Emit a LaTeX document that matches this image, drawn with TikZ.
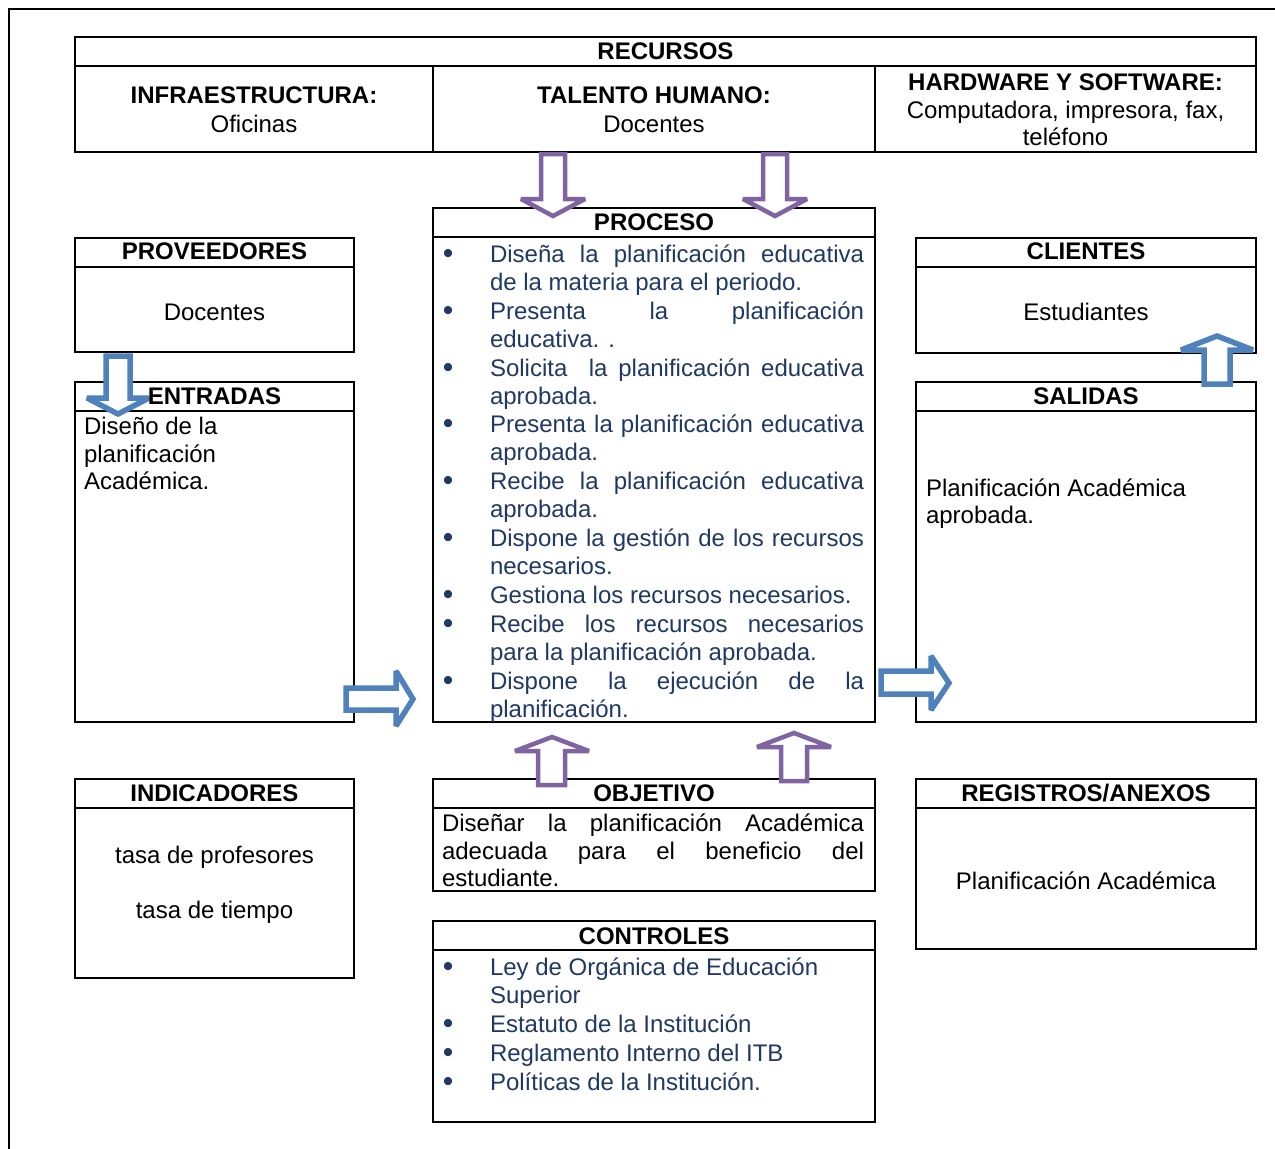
\documentclass[tikz,border=0pt]{standalone}
\usepackage{fontspec}
\setmainfont{Liberation Sans}
\definecolor{navy}{HTML}{1F3864}
\definecolor{apurple}{HTML}{8064A2}
\definecolor{ablue}{HTML}{4F81BD}
\newcommand\jproc[1]{\makebox[374pt][s]{#1}}
\newcommand\jobj[1]{\makebox[422pt][s]{#1}}
\begin{document}
\begin{tikzpicture}[x=1pt,y=-1pt,
  box/.style={draw=black, line width=1.8pt, rectangle, inner sep=0pt, outer sep=0pt},
  txt/.style={inner sep=0pt, outer sep=0pt, font=\fontsize{24}{28}\selectfont, text=black},
  hdr/.style={txt, font=\fontsize{24}{28}\selectfont\bfseries},
  ptxt/.style={txt, text=navy, anchor=base west},
  bul/.style={txt, text=navy, anchor=base, font=\fontsize{30}{24}\selectfont},
  parr/.style={draw=apurple, fill=white, line width=4.5pt, line join=miter, miter limit=2.5},
  barr/.style={draw=ablue, fill=white, line width=5.5pt, line join=miter, miter limit=2.5}]
\useasboundingbox (0,0) rectangle (1275,1149);
\fill[white] (0,0) rectangle (1275,1149);
% outer frame
\draw[line width=1.8pt] (9,1149) -- (9,9) -- (1275,9);

% boxes
\node[box, minimum width=1181pt, minimum height=115pt] (recursos) at (665.5,94.5) {};
\node[box, minimum width=442pt, minimum height=514pt] (proceso) at (654,465) {};
\node[box, minimum width=279pt, minimum height=114pt] (prov) at (214.5,295) {};
\node[box, minimum width=279pt, minimum height=340pt] (entradas) at (214.5,552) {};
\node[box, minimum width=340pt, minimum height=115pt] (clientes) at (1086,295.5) {};
\node[box, minimum width=340pt, minimum height=340pt] (salidas) at (1086,552) {};
\node[box, minimum width=279pt, minimum height=199pt] (indic) at (214.5,878.5) {};
\node[box, minimum width=442pt, minimum height=112pt] (objetivo) at (654,835) {};
\node[box, minimum width=442pt, minimum height=201pt] (controles) at (654,1021.5) {};
\node[box, minimum width=340pt, minimum height=170pt] (registros) at (1086,864) {};

\foreach \b in {recursos,proceso,prov,entradas,clientes,salidas,indic,objetivo,controles,registros}
  \draw[line width=1.8pt] ([yshift=-29pt]\b.north west) -- ([yshift=-29pt]\b.north east);
\draw[line width=1.8pt] (433,66) -- (433,152);
\draw[line width=1.8pt] (875,66) -- (875,152);

% arrows
\draw[parr] (541,154) -- (565,154) -- (565,199) -- (585,199) -- (553,216) -- (521,199) -- (541,199) -- cycle;
\draw[parr] (763,154) -- (787,154) -- (787,199) -- (807,199) -- (775,216) -- (743,199) -- (763,199) -- cycle;
\draw[parr] (538,785) -- (565,785) -- (565,751) -- (589,751) -- (552,737) -- (515,751) -- (538,751) -- cycle;
\draw[parr] (781,781) -- (807,781) -- (807,747) -- (831,747) -- (794,733) -- (757,747) -- (781,747) -- cycle;
\draw[barr] (106,356) -- (130,356) -- (130,398) -- (149,398) -- (118,414) -- (87,398) -- (106,398) -- cycle;
\draw[barr] (346,688) -- (396,688) -- (396,671) -- (413,699) -- (396,726) -- (396,710) -- (346,710) -- cycle;
\draw[barr] (881,671) -- (931,671) -- (931,656) -- (949,683) -- (931,710) -- (931,694) -- (881,694) -- cycle;
\draw[barr] (1204,384) -- (1230,384) -- (1230,350) -- (1253,350) -- (1217,336) -- (1181,350) -- (1204,350) -- cycle;

% RECURSOS texts
\node[hdr, anchor=base] (hrec) at (665.5,59) {RECURSOS};
\node[hdr, anchor=base] (hinf) at (254,103) {INFRAESTRUCTURA:};
\node[txt, anchor=base] (tinf) at (254,132) {Oficinas};
\node[hdr, anchor=base] (htal) at (654,103) {TALENTO HUMANO:};
\node[txt, anchor=base] (ttal) at (654,132) {Docentes};
\node[hdr, anchor=base] (hhw) at (1065.5,90) {HARDWARE Y SOFTWARE:};
\node[txt, anchor=base] (thw1) at (1065.5,118) {Computadora, impresora, fax,};
\node[txt, anchor=base] (thw2) at (1065.5,145) {teléfono};

% headers
\node[hdr, anchor=base] (hproc) at (654,230) {PROCESO};
\node[hdr, anchor=base] (hprov) at (214.5,259) {PROVEEDORES};
\node[hdr, anchor=base] (hcli) at (1086,259) {CLIENTES};
\node[hdr, anchor=base] (hent) at (214.5,404) {ENTRADAS};
\node[hdr, anchor=base] (hsal) at (1086,404) {SALIDAS};
\node[hdr, anchor=base] (hind) at (214.5,801) {INDICADORES};
\node[hdr, anchor=base] (hobj) at (654,801) {OBJETIVO};
\node[hdr, anchor=base] (hreg) at (1086,801) {REGISTROS/ANEXOS};
\node[hdr, anchor=base] (hcon) at (654,944) {CONTROLES};

% simple contents
\node[txt, anchor=base] (tprov) at (214.5,320) {Docentes};
\node[txt, anchor=base] (tcli) at (1086,320) {Estudiantes};
\node[txt, anchor=base west] (tent1) at (84,434) {Diseño de la};
\node[txt, anchor=base west] (tent2) at (84,462) {planificación};
\node[txt, anchor=base west] (tent3) at (84,489) {Académica.};
\node[txt, anchor=base west] (tsal1) at (926,496) {Planificación Académica};
\node[txt, anchor=base west] (tsal2) at (926,523) {aprobada.};
\node[txt, anchor=base] (tind1) at (214.5,863) {tasa de profesores};
\node[txt, anchor=base] (tind2) at (214.5,918) {tasa de tiempo};
\node[txt, anchor=base] (treg) at (1086,889) {Planificación Académica};
\node[txt, anchor=base west] (tobj1) at (442,831) {\jobj{Diseñar la planificación Académica}};
\node[txt, anchor=base west] (tobj2) at (442,859) {\jobj{adecuada para el beneficio del}};
\node[txt, anchor=base west] (tobj3) at (442,886) {estudiante.};

% PROCESO list
\foreach \y [count=\i] in {262,319,376,432,489,546,603,632,689}
  \node[bul] (pb\i) at (448,\y+1.5) {•};
\node[ptxt] (p1) at (490,262) {\jproc{Diseña la planificación educativa}};
\node[ptxt] (p2) at (490,290) {de la materia para el periodo.};
\node[ptxt] (p3) at (490,319) {\jproc{Presenta la planificación}};
\node[ptxt] (p4) at (490,347) {educativa. .};
\node[ptxt] (p5) at (490,376) {\jproc{Solicita\ \ la planificación educativa}};
\node[ptxt] (p6) at (490,404) {aprobada.};
\node[ptxt] (p7) at (490,432) {\jproc{Presenta la planificación educativa}};
\node[ptxt] (p8) at (490,460) {aprobada.};
\node[ptxt] (p9) at (490,489) {\jproc{Recibe la planificación educativa}};
\node[ptxt] (p10) at (490,517) {aprobada.};
\node[ptxt] (p11) at (490,546) {\jproc{Dispone la gestión de los recursos}};
\node[ptxt] (p12) at (490,574) {necesarios.};
\node[ptxt] (p13) at (490,603) {Gestiona los recursos necesarios.};
\node[ptxt] (p14) at (490,632) {\jproc{Recibe los recursos necesarios}};
\node[ptxt] (p15) at (490,660) {para la planificación aprobada.};
\node[ptxt] (p16) at (490,689) {\jproc{Dispone la ejecución de la}};
\node[ptxt] (p17) at (490,717) {planificación.};

% CONTROLES list
\foreach \y [count=\i] in {975,1032,1061,1090}
  \node[bul] (cb\i) at (448,\y+1.5) {•};
\node[ptxt] (c1) at (490,975) {Ley de Orgánica de Educación};
\node[ptxt] (c2) at (490,1003) {Superior};
\node[ptxt] (c3) at (490,1032) {Estatuto de la Institución};
\node[ptxt] (c4) at (490,1061) {Reglamento Interno del ITB};
\node[ptxt] (c5) at (490,1090) {Políticas de la Institución.};
\end{tikzpicture}
\end{document}
